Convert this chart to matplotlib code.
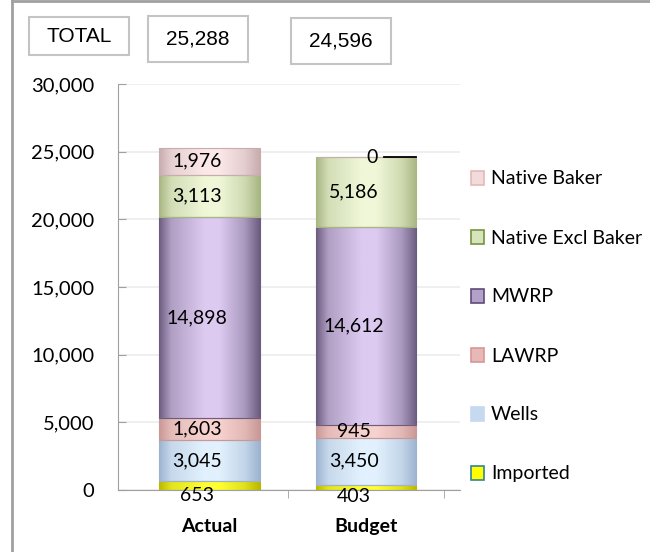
import numpy as np
import matplotlib
matplotlib.use("Agg")
import matplotlib.pyplot as plt
from matplotlib.colors import LinearSegmentedColormap, to_rgb
from matplotlib.patches import Patch, Rectangle
from matplotlib.lines import Line2D

plt.rcParams['font.family'] = ['Lato', 'DejaVu Sans']

categories = ["Actual", "Budget"]
series = ["Imported", "Wells", "LAWRP", "MWRP", "Native Excl Baker", "Native Baker"]
imported = [653, 403]
wells = [3045, 3450]
lawrp = [1603, 945]
mwrp = [14898, 14612]
native_excl = [3113, 5186]
native_baker = [1976, 0]
values = [imported, wells, lawrp, mwrp, native_excl, native_baker]

# (dark edge, light centre, legend fill, legend edge)
styles = [
    ("#b9b900", "#ffff33", "#ffff00", "#31859c"),
    ("#9db3d0", "#e2f1fd", "#c6d9f1", "#c6d9f1"),
    ("#c99896", "#f7d2ce", "#e6b9b8", "#d99694"),
    ("#6c5d80", "#ddcaf0", "#b3a2c7", "#604a7b"),
    ("#a8b682", "#eff7d8", "#d7e4bd", "#77933c"),
    ("#c8acae", "#fbe8e8", "#f2dcdb", "#e6b9b8"),
]


def mix(a, b, t):
    a, b = np.array(to_rgb(a)), np.array(to_rgb(b))
    return tuple(a + (b - a) * t)


fig = plt.figure(figsize=(6.5, 5.52), dpi=100)
ax = fig.add_axes([118 / 650, 62 / 552, 342 / 650, 406 / 552])

x = np.arange(len(categories))
grad = np.linspace(0, 1, 256)[None, :]
bottom = np.zeros(len(categories))
all_bars = []
for vals, (dark, light, _, edge) in zip(values, styles):
    bars = ax.bar(x, vals, 0.64, bottom=bottom, color="none", edgecolor=dark,
                  linewidth=0.8, zorder=3)
    cmap = LinearSegmentedColormap.from_list(
        "c", [(0.0, dark), (0.12, mix(dark, light, 0.6)), (0.45, light),
              (0.6, light), (0.85, mix(dark, light, 0.55)), (1.0, dark)])
    for b in bars:
        if b.get_height() <= 0:
            continue
        im = ax.imshow(grad, extent=[b.get_x(), b.get_x() + b.get_width(),
                                     b.get_y(), b.get_y() + b.get_height()],
                       aspect="auto", cmap=cmap, zorder=2, interpolation="bilinear")
        im.set_clip_path(b)
    all_bars.append(bars)
    bottom = bottom + np.array(vals)

# data labels
for i, bars in enumerate(all_bars):
    for b, v in zip(bars, values[i]):
        cx = b.get_x() + b.get_width() / 2
        cy = b.get_y() + b.get_height() / 2
        if v == 0:
            ax.annotate("0", (cx, cy), xytext=(4, 0), textcoords="offset points",
                        ha="center", va="center", fontsize=14, zorder=5)
            x0 = cx + b.get_width() * 0.18
            x1 = b.get_x() + b.get_width()
            ax.plot([x0, x1], [cy, cy], color="black", lw=1.3, zorder=5)
            continue
        dy = -7 if i == 0 else 0
        ax.annotate(f"{v:,}", (cx, cy), xytext=(-9, dy), textcoords="offset points",
                    ha="center", va="center", fontsize=14, zorder=5)

ax.set_xlim(-0.585, 1.6)
ax.set_ylim(0, 30000)
ax.set_yticks(np.arange(0, 30001, 5000))
ax.set_yticklabels([f"{t:,}" for t in range(0, 30001, 5000)], fontsize=14.5)
ax.set_xticks(x)
ax.set_xticklabels(categories, fontsize=14, fontweight="bold")
ax.set_xticks([0.5, 1.5], minor=True)
ax.tick_params(axis="x", which="major", length=0, pad=20)
ax.tick_params(axis="x", which="minor", length=6, color="#a0a0a0", direction="out")
ax.tick_params(axis="y", length=6, color="#a0a0a0", direction="in", pad=17)
ax.yaxis.grid(True, color="#ececec", lw=1.2, zorder=0)
ax.set_axisbelow(True)
for s in ["top", "right"]:
    ax.spines[s].set_visible(False)
for s in ["left", "bottom"]:
    ax.spines[s].set_color("#a0a0a0")

handles = [Patch(facecolor=st[2], edgecolor=st[3], lw=1.2) for st in styles]
leg = fig.legend(handles[::-1], series[::-1], loc="upper left",
                 bbox_to_anchor=(453 / 650, 1 - 153 / 552), frameon=False,
                 fontsize=14, handlelength=0.7, handleheight=0.7,
                 handletextpad=0.35, labelspacing=2.16)

# header boxes
totals = [sum(v[j] for v in values) for j in range(len(categories))]
boxes = [("TOTAL", 29, 17, 100, 38), (f"{totals[0]:,}", 148, 16, 100, 46),
         (f"{totals[1]:,}", 291, 18, 100, 46)]
for txt, bx, by, bw, bh in boxes:
    fig.add_artist(Rectangle((bx / 650, 1 - (by + bh) / 552), bw / 650, bh / 552,
                             transform=fig.transFigure, facecolor="white",
                             edgecolor="#c4c4c4", lw=1.5))
    fig.text((bx + bw / 2) / 650, 1 - (by + bh / 2) / 552, txt, ha="center", va="center",
             fontsize=15, family=["Liberation Sans Narrow", "Liberation Sans"])

# outer frame
fig.add_artist(Line2D([12 / 650, 1], [1 - 0.5 / 552] * 2, transform=fig.transFigure,
                      color="#a0a0a0", lw=2))
fig.add_artist(Line2D([12 / 650] * 2, [0, 1], transform=fig.transFigure,
                      color="#a0a0a0", lw=2))

fig.savefig("out.png", dpi=100)
